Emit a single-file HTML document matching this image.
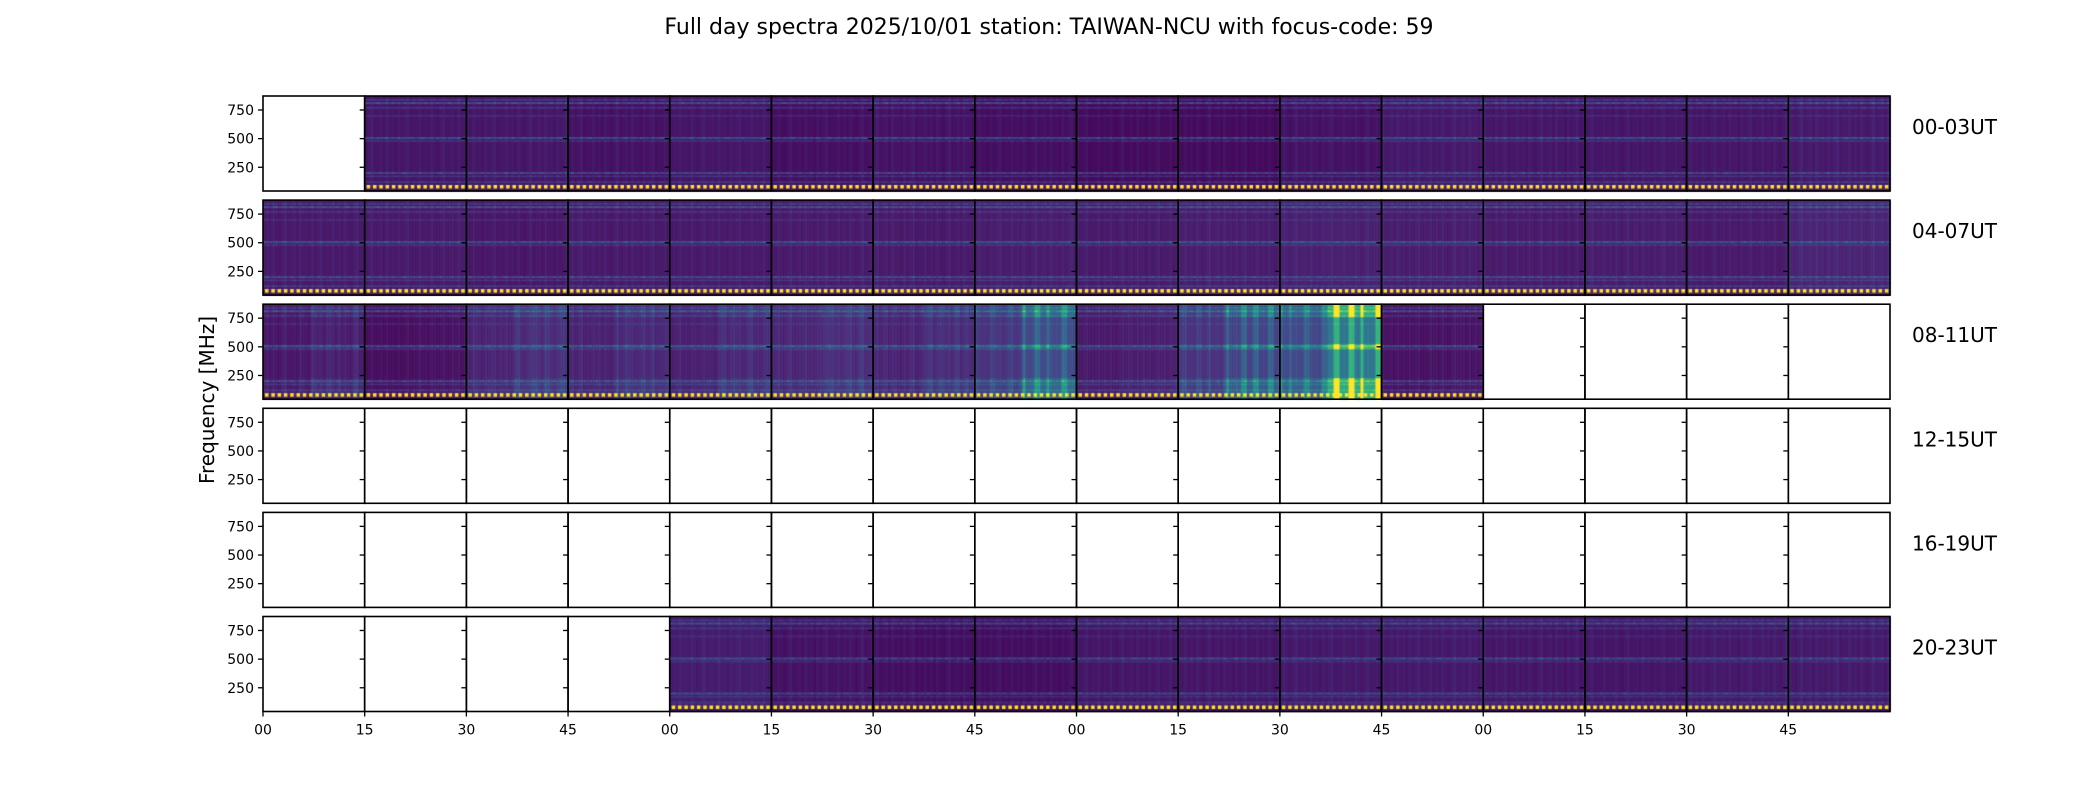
<!DOCTYPE html>
<html><head><meta charset="utf-8"><style>
html,body{margin:0;padding:0;background:#fff;}
#wrap{position:relative;width:2100px;height:800px;overflow:hidden;}
canvas,svg{position:absolute;left:0;top:0;}
text{font-family:"DejaVu Sans","Liberation Sans",sans-serif;fill:#000;}
</style></head><body>
<div id="wrap">
<canvas id="cv" width="2100" height="800"></canvas>
<svg id="sv" width="2100" height="800">
<text x="1049" y="34" font-size="22" text-anchor="middle">Full day spectra 2025/10/01 station: TAIWAN-NCU with focus-code: 59</text>
<text x="0" y="0" font-size="20" text-anchor="middle" transform="translate(214,400) rotate(-90)">Frequency [MHz]</text>
</svg>
</div>
<script>
// ---- data ----
const rowLabels = ["00-03UT","04-07UT","08-11UT","12-15UT","16-19UT","20-23UT"];
const xTickLabels = ["00","15","30","45","00","15","30","45","00","15","30","45","00","15","30","45"];
const yTicks = [250,500,750];
// 1 = data present for that 15-min panel
const present = [
 [0,1,1,1,1,1,1,1,1,1,1,1,1,1,1,1],
 [1,1,1,1,1,1,1,1,1,1,1,1,1,1,1,1],
 [1,1,1,1,1,1,1,1,1,1,1,1,0,0,0,0],
 [0,0,0,0,0,0,0,0,0,0,0,0,0,0,0,0],
 [0,0,0,0,0,0,0,0,0,0,0,0,0,0,0,0],
 [0,0,0,0,1,1,1,1,1,1,1,1,1,1,1,1]
];
// base intensity (0..1) of each panel
const baseLevel = [
 [0,.05,.05,.04,.05,.03,.04,.03,.02,.02,.04,.06,.05,.05,.05,.06],
 [.05,.05,.04,.05,.05,.05,.05,.06,.05,.06,.07,.06,.05,.06,.05,.08],
 [.03,.01,.06,.06,.05,.07,.06,.08,.04,.08,.10,.02,0,0,0,0],
 [0,0,0,0,0,0,0,0,0,0,0,0,0,0,0,0],
 [0,0,0,0,0,0,0,0,0,0,0,0,0,0,0,0],
 [0,0,0,0,.07,.04,.03,.03,.05,.05,.06,.06,.05,.05,.06,.06]
];
// strong-emission level per panel (broad vertical bursts)
const burstLevel = [
 [0,0,0,0,0,0,0,0,0,0,0,0,0,0,0,0],
 [0,0,0,0,0,0,0,0,0,0,0,0,0,0,0,0],
 [.08,.03,.10,.08,.10,.08,.10,.35,.04,.30,.80,.02,0,0,0,0],
 [0,0,0,0,0,0,0,0,0,0,0,0,0,0,0,0],
 [0,0,0,0,0,0,0,0,0,0,0,0,0,0,0,0],
 [0,0,0,0,0,0,0,0,0,0,0,0,0,0,0,0]
];
// persistent RFI bands (MHz) and strength
const bandFreqs = [840, 810, 770, 700, 505, 480, 200, 170, 120, 90];
const bandPower = [.18, .35, .15, .10, .35, .14, .32, .15, .18, .14];
// column texture pattern (relative)
const colPattern = [.02,.06,.01,.09,.03,.00,.05,.12,.02,.04,.07,.01,.10,.03,.05,.00,.08,.02,.06,.11,.01,.04,.03,.09];
const fMin = 43, fMax = 872;

// ---- layout ----
const L = 263, R = 1890, N = 16, pw = (R - L) / N;
const rowTop0 = 96, rowH = 95, rowStep = 104.1;
function xPanel(i){ return L + i * pw; }
function yRow(r){ return rowTop0 + r * rowStep; }
function yFreq(r, f){ return yRow(r) + rowH * (1 - (f - fMin) / (fMax - fMin)); }

const vir = [[68,1,84],[72,40,120],[62,73,137],[49,104,142],[38,130,142],[31,158,137],[53,183,121],[109,205,89],[180,222,44],[253,231,37]];
function viridis(t){
  t = Math.max(0, Math.min(1, t)) * (vir.length - 1);
  const i = Math.min(vir.length - 2, Math.floor(t)), u = t - i;
  const a = vir[i], b = vir[i+1];
  return "rgb(" + Math.round(a[0]+(b[0]-a[0])*u) + "," + Math.round(a[1]+(b[1]-a[1])*u) + "," + Math.round(a[2]+(b[2]-a[2])*u) + ")";
}

const ctx = document.getElementById('cv').getContext('2d');
ctx.fillStyle = '#fff'; ctx.fillRect(0,0,2100,800);
const NC = 34, NF = 95;
for (let r = 0; r < rowLabels.length; r++) {
  for (let p = 0; p < N; p++) {
    if (!present[r][p]) continue;
    const x0 = xPanel(p), y0 = yRow(r), cw = pw / NC;
    for (let c = 0; c < NC; c++) {
      const colT = colPattern[(c + p * 5) % colPattern.length];
      const sel = colPattern[(c * 7 + p) % colPattern.length];
      const burstCol = burstLevel[r][p] * (c / NC > 0.45 ? 1 : 0.35) * (sel > 0.05 ? 1.2 : 0.6);
      for (let k = 0; k < NF; k++) {
        const f = fMax - (k + 0.5) * (fMax - fMin) / NF;
        let v = baseLevel[r][p] + colT * 0.3;
        for (let b = 0; b < bandFreqs.length; b++) {
          const d = Math.abs(f - bandFreqs[b]);
          if (d < 9) v += bandPower[b] * (1 - d / 12) * (0.5 + colPattern[(c + b * 3) % colPattern.length] * 5);
        }
        if (burstCol > 0) {
          const fw = (f > 760 || f < 230 || Math.abs(f - 500) < 25) ? 1 : 0.55;
          v += burstCol * fw;
        }
        ctx.fillStyle = viridis(v);
        ctx.fillRect(x0 + c * cw, y0 + k * rowH / NF, cw + 0.6, rowH / NF + 0.6);
      }
    }
    // yellow dotted bottom line
    for (let xx = x0 + 2; xx < x0 + pw - 3; xx += 6.3) {
      ctx.fillStyle = '#fde725'; ctx.fillRect(xx, y0 + rowH - 6, 3.5, 3.5);
    }
  }
}

// ---- axes overlay ----
const NS = 'http://www.w3.org/2000/svg';
const sv = document.getElementById('sv');
function mk(tag, attrs){ const e = document.createElementNS(NS, tag); for (const k in attrs) e.setAttribute(k, attrs[k]); sv.appendChild(e); return e; }
for (let r = 0; r < rowLabels.length; r++) {
  const y0 = yRow(r);
  for (let p = 0; p < N; p++) {
    const fr = mk('rect', {x: xPanel(p), y: y0, width: pw, height: rowH, fill: 'none', stroke: '#000', 'stroke-width': 1.6});
    
    
    for (const t of yTicks) {
      const ty = yFreq(r, t);
      const tk = mk('line', {x1: xPanel(p) - 5, x2: xPanel(p), y1: ty, y2: ty, stroke: '#000', 'stroke-width': 1.3});
      
      
    }
  }
  for (const t of yTicks) {
    const tl = mk('text', {x: L - 9, y: yFreq(r, t) + 5, 'font-size': 14, 'text-anchor': 'end'});
    tl.textContent = t;
    
    
  }
  const lb = mk('text', {x: 1912, y: y0 + 38, 'font-size': 20});
  lb.textContent = rowLabels[r];
  
  
}
const yb = yRow(rowLabels.length - 1) + rowH;
for (let i = 0; i < xTickLabels.length; i++) {
  const tk = mk('line', {x1: xPanel(i), x2: xPanel(i), y1: yb, y2: yb + 5, stroke: '#000', 'stroke-width': 1.3});
  
  
  const tl = mk('text', {x: xPanel(i), y: yb + 23, 'font-size': 14, 'text-anchor': 'middle'});
  tl.textContent = xTickLabels[i];
  
  
}
</script>
</body></html>
